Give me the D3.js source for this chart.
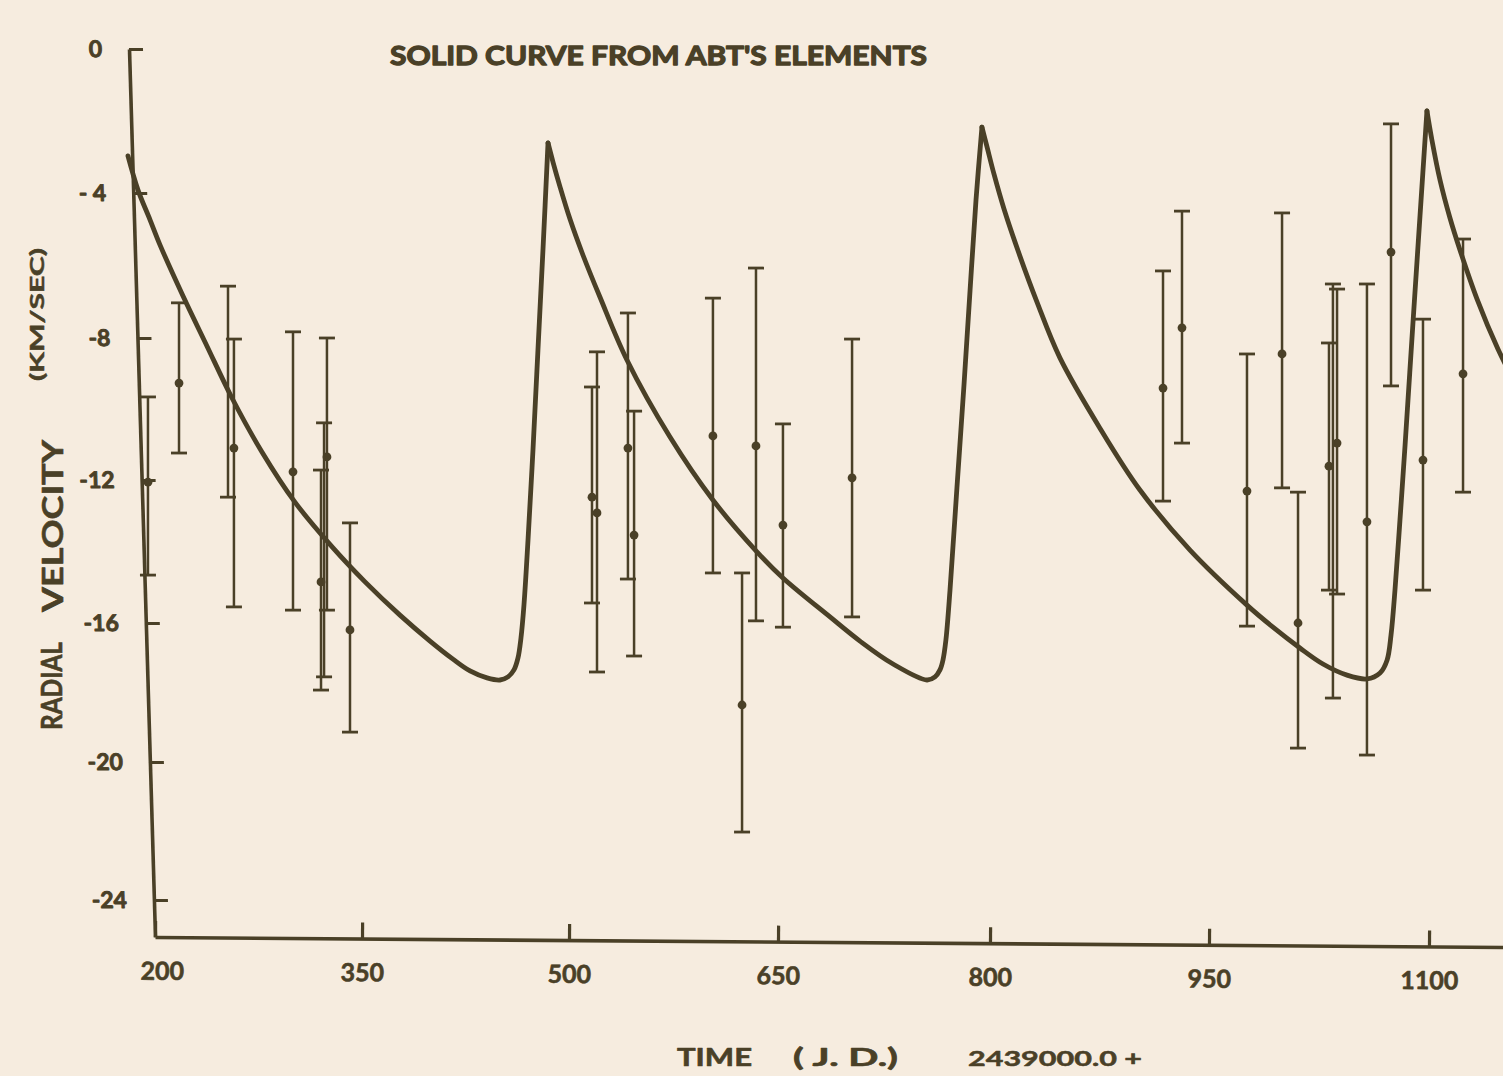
<!DOCTYPE html>
<html><head><meta charset="utf-8">
<script src="https://cdn.jsdelivr.net/npm/d3@7"></script>
<style>
html,body{margin:0;padding:0;background:#f6ecdf;}
svg{display:block;}
</style></head><body>
<svg id="chart" width="1503" height="1076"></svg>
<script>
// ---- data ----
const xTickValues = [200, 350, 500, 650, 800, 950, 1100];
const yTickValues = [0, -4, -8, -12, -16, -20, -24];

// observations: time (J.D. - 2439000), velocity (km/s), upper and lower error limits
const obsTime  = [194.9, 217.4, 252.9, 257.2, 300.0, 324.6, 322.5, 320.3, 341.3, 516.5, 520.1, 542.3, 546.7, 603.3, 624.2, 634.2, 653.5, 702.4, 918.5, 931.5, 975.9, 999.8, 1010.7, 1031.8, 1037.3, 1034.5, 1057.7, 1074.1, 1095.9, 1123.2];
const obsVel   = [-12.06, -9.27, null, -11.10, -11.77, -11.35, null, -14.85, -16.20, -12.48, -12.92, -11.10, -13.54, -10.76, -18.36, -11.04, -13.26, -11.94, -9.41, -7.72, -12.31, -8.45, -16.0, -11.61, -10.96, null, -13.17, -5.63, -11.44, -9.01];
const obsUpper = [-9.66, -7.03, -6.57, -8.03, -7.83, -8.0, -10.39, -11.72, -13.20, -9.38, -8.39, -7.31, -10.06, -6.90, -14.60, -6.07, -10.42, -8.03, -6.15, -4.50, -8.45, -4.55, -12.34, -8.14, -6.65, -6.51, -6.51, -2.08, -7.48, -5.27];
const obsLower = [-14.66, -11.24, -12.48, -15.55, -15.64, -15.64, -17.55, -17.93, -19.14, -15.44, -17.41, -14.77, -16.95, -14.60, -22.03, -15.94, -16.12, -15.83, -12.59, -10.96, -16.09, -12.22, -19.60, -15.08, -15.19, -18.16, -19.80, -9.35, -15.08, -12.34];

// solid curve (from Abt's elements)
const curveTime = [180.4,187.7,196.4,203.6,220.3,237.7,255.8,277.5,301.4,329.0,352.2,377.5,399.3,415.9,428.3,440.6,450.0,455.8,460.1,463.0,465.2,467.4,470.3,473.9,477.5,481.2,484.8,
  488.4,493.5,500.7,510.0,522.2,541.6,572.5,603.3,634.9,653.5,686.8,708.0,731.4,755.4,761.1,764.6,766.7,768.8,771.7,776.6,781.6,785.9,790.1,794.3,
  797.9,802.7,809.6,820.5,832.2,847.9,875.3,902.7,937.0,975.9,993.6,1012.0,1027.7,1044.1,1057.7,1066.6,1071.4,1074.1,1076.8,1080.2,1083.7,1089.1,1093.9,1098.6,
  1102.0,1107.5,1114.3,1121.1,1132.7,1147.0,1155.2];
const curveVel  = [-2.97,-3.92,-4.74,-5.43,-6.84,-8.23,-9.69,-11.21,-12.62,-13.90,-14.85,-15.78,-16.52,-17.04,-17.38,-17.58,-17.64,-17.55,-17.35,-17.01,-16.43,-15.48,-13.68,-11.15,-8.34,-5.52,-2.61,
  -3.14,-3.83,-4.72,-5.71,-6.87,-8.62,-10.79,-12.56,-14.01,-14.74,-15.83,-16.52,-17.18,-17.64,-17.55,-17.35,-17.07,-16.49,-15.08,-12.22,-9.32,-6.68,-4.19,-2.17,
  -2.72,-3.47,-4.44,-5.74,-7.01,-8.56,-10.54,-12.28,-13.96,-15.50,-16.12,-16.72,-17.18,-17.50,-17.61,-17.44,-17.07,-16.35,-15.08,-13.12,-11.01,-7.56,-4.61,-1.72,
  -2.53,-3.64,-4.69,-5.57,-6.92,-8.31,-8.99];

const titleText = "SOLID CURVE FROM ABT'S ELEMENTS";

// ---- drawing ----
const ink = "#4a4027";
const font = "Lato, 'Open Sans', 'DejaVu Sans', sans-serif";
const svg = d3.select("#chart");

// hand-drawn axes: slightly uneven spacing, so use piecewise-linear scales
const x = d3.scaleLinear()
  .domain([200, 350, 500, 650, 800, 950, 1100, 1160])
  .range([155, 362, 569, 778, 990, 1209, 1429, 1517]);
const y = d3.scaleLinear()
  .domain([0, -4, -8, -12, -16, -20, -24, -25.07])
  .range([49, 193, 338, 480, 623, 762, 900, 937]);

const yBottom = y(-25.07);
const xLeft = x(200);
const slant = 26 / 888; // the drawn y-axis leans slightly
const slantDeg = Math.atan(slant) * 180 / Math.PI;
const x0 = xLeft - slant * yBottom;

function styleText(sel, size, sw) {
  sel.attr("fill", ink).attr("stroke", ink).attr("stroke-width", sw)
    .attr("stroke-linejoin", "round")
    .style("font-family", font).style("font-weight", 700)
    .style("font-size", size + "px");
}

// Y axis
const yAxis = d3.axisLeft(y).tickValues(yTickValues)
  .tickSizeInner(-14).tickSizeOuter(0).tickPadding(27)
  .tickFormat(d => d === 0 ? "0" : (d === -4 ? "- 4" : "-" + Math.abs(d)));
const gy = svg.append("g")
  .attr("transform", `translate(${x0},0) skewX(${slantDeg})`)
  .call(yAxis);
gy.select(".domain").attr("stroke", ink).attr("stroke-width", 3.6);
gy.selectAll(".tick line").attr("stroke", ink).attr("stroke-width", 3.2);
styleText(gy.selectAll(".tick text"), 23, 0.9);

// X axis
const xAngle = Math.atan(10 / 1348) * 180 / Math.PI;
const xAxis = d3.axisBottom(x).tickValues(xTickValues)
  .tickSizeInner(-16).tickSizeOuter(0).tickPadding(25)
  .tickFormat(d3.format("d"));
const gx = svg.append("g")
  .attr("transform", `translate(0,${yBottom}) rotate(${xAngle},${xLeft},0)`)
  .call(xAxis);
gx.select(".domain").attr("stroke", ink).attr("stroke-width", 3.6);
gx.selectAll(".tick line").attr("stroke", ink).attr("stroke-width", 3.2);
styleText(gx.selectAll(".tick text"), 25, 0.6);
gx.selectAll(".tick text").filter(d => d === 200).attr("dx", 7);

// error bars
const obs = obsTime.map((t, i) => ({t, v: obsVel[i], hi: obsUpper[i], lo: obsLower[i]}));
const gb = svg.append("g").attr("stroke", ink).attr("fill", ink);
const bar = gb.selectAll("g.bar").data(obs).join("g").attr("class", "bar");
bar.append("line")
  .attr("x1", d => x(d.t)).attr("x2", d => x(d.t))
  .attr("y1", d => y(d.hi)).attr("y2", d => y(d.lo))
  .attr("stroke-width", 2.5);
bar.append("line")
  .attr("x1", d => x(d.t) - 8).attr("x2", d => x(d.t) + 8)
  .attr("y1", d => y(d.hi)).attr("y2", d => y(d.hi))
  .attr("stroke-width", 2.8);
bar.append("line")
  .attr("x1", d => x(d.t) - 8).attr("x2", d => x(d.t) + 8)
  .attr("y1", d => y(d.lo)).attr("y2", d => y(d.lo))
  .attr("stroke-width", 2.8);
bar.filter(d => d.v !== null).append("circle")
  .attr("cx", d => x(d.t)).attr("cy", d => y(d.v)).attr("r", 4.4)
  .attr("stroke", "none");

// solid curve: split at its sharp maxima so each crest stays a cusp
const curvePts = curveTime.map((t, i) => ({t, v: curveVel[i]}));
const pieces = [];
let start = 0;
for (let i = 1; i < curvePts.length - 1; i++) {
  if (curvePts[i].v > curvePts[i - 1].v && curvePts[i].v > curvePts[i + 1].v) {
    pieces.push(curvePts.slice(start, i + 1));
    start = i;
  }
}
pieces.push(curvePts.slice(start));
const line = d3.line().x(d => x(d.t)).y(d => y(d.v)).curve(d3.curveCatmullRom.alpha(0.5));
svg.append("g").selectAll("path").data(pieces).join("path")
  .attr("fill", "none").attr("stroke", ink).attr("stroke-width", 4.8)
  .attr("stroke-linejoin", "round").attr("stroke-linecap", "round")
  .attr("d", line);

// title and axis titles
function label(txt, tx, ty, size, len, rot, sw) {
  const t = svg.append("text")
    .attr("transform", `translate(${tx},${ty})` + (rot ? ` rotate(${rot})` : ""))
    .text(txt);
  styleText(t, size, sw);
  if (len) t.attr("textLength", len).attr("lengthAdjust", "spacingAndGlyphs");
  return t;
}
label(titleText, 390, 65, 27, 537, 0, 1.3);
label("TIME", 677, 1066, 24, 75, 0, 0.6);
label("( J. D.)", 793, 1066, 24, 105, 0, 0.6);
label("2439000.0  +", 968, 1066, 21, 174, 0, 0.5);
label("RADIAL", 62, 730, 28, 88, -90, 0.6);
label("VELOCITY", 63, 612, 28, 172, -90, 0.6);
label("(KM/SEC)", 44, 381, 19, 133, -90, 0.5);
</script>
</body></html>
